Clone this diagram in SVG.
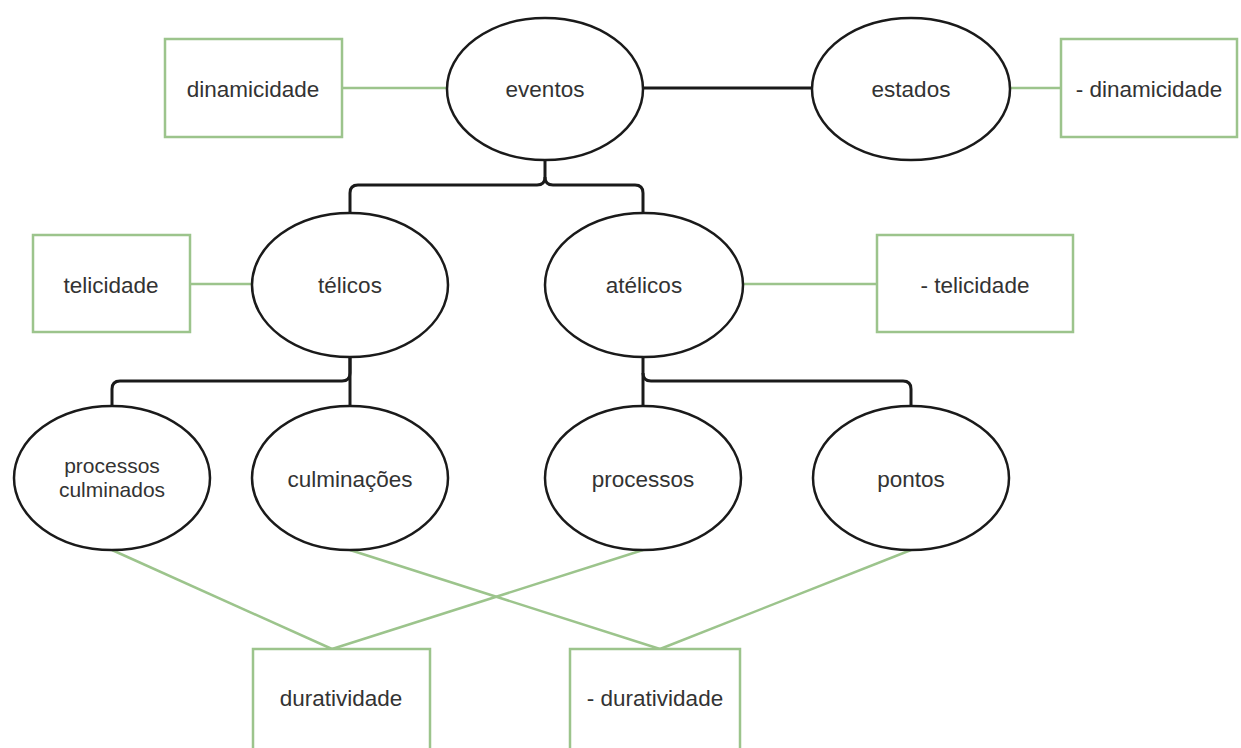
<svg xmlns="http://www.w3.org/2000/svg" width="1241" height="748" viewBox="0 0 1241 748">
<style>
.bg{fill:#fff}
.ell{fill:#fff;stroke:#1a1a1a;stroke-width:2.5}
.box{fill:#fff;stroke:#9cc48c;stroke-width:2.5}
.blk{fill:none;stroke:#1a1a1a;stroke-width:3}
.grn{fill:none;stroke:#9cc48c;stroke-width:2.5}
text{font-family:"Liberation Sans",Arial,sans-serif;font-size:22.5px;fill:#333;text-anchor:middle;dominant-baseline:central}
text.sm{font-size:21px}
</style>
<rect class="bg" x="0" y="0" width="1241" height="748"/>
<g id="connectors">
<path class="grn" d="M342,88 H447"/>
<path class="blk" d="M643,88 H812"/>
<path class="grn" d="M1010,88 H1061"/>
<path class="blk" d="M545,160 V177 Q545,185 537,185 H358 Q350,185 350,193 V212"/>
<path class="blk" d="M545,177 Q545,185 553,185 H635 Q643,185 643,193 V212"/>
<path class="grn" d="M190,284 H252"/>
<path class="grn" d="M743,284 H877"/>
<path class="blk" d="M350,357 V373 Q350,381 342,381 H120 Q112,381 112,389 V406"/>
<path class="blk" d="M350,357 V406"/>
<path class="blk" d="M643,357 V406"/>
<path class="blk" d="M643,373 Q643,381 651,381 H903 Q911,381 911,389 V406"/>
<path class="grn" d="M112,550 L332,649"/>
<path class="grn" d="M350,550 L660,649"/>
<path class="grn" d="M643,550 L332,649"/>
<path class="grn" d="M911,550 L660,649"/>
</g>
<g id="dinamicidade"><rect class="box" x="165" y="39" width="177" height="98"/><text x="253" y="89">dinamicidade</text></g>
<g id="eventos"><ellipse class="ell" cx="545" cy="89" rx="98" ry="71"/><text x="545" y="89">eventos</text></g>
<g id="estados"><ellipse class="ell" cx="911" cy="89" rx="99" ry="71"/><text x="911" y="89">estados</text></g>
<g id="neg-dinamicidade"><rect class="box" x="1061" y="39" width="176" height="98"/><text x="1149" y="89">- dinamicidade</text></g>
<g id="telicidade"><rect class="box" x="33" y="235" width="157" height="97"/><text x="111" y="285">telicidade</text></g>
<g id="telicos"><ellipse class="ell" cx="350" cy="285" rx="98" ry="72"/><text x="350" y="285">télicos</text></g>
<g id="atelicos"><ellipse class="ell" cx="644" cy="285" rx="99" ry="72"/><text x="644" y="285">atélicos</text></g>
<g id="neg-telicidade"><rect class="box" x="877" y="235" width="196" height="97"/><text x="975" y="285">- telicidade</text></g>
<g id="processos-culminados"><ellipse class="ell" cx="112" cy="478" rx="98" ry="72"/><text class="sm" x="112" y="465">processos</text><text class="sm" x="112" y="489">culminados</text></g>
<g id="culminacoes"><ellipse class="ell" cx="350" cy="478" rx="98" ry="72"/><text x="350" y="479">culminações</text></g>
<g id="processos"><ellipse class="ell" cx="643" cy="478" rx="98" ry="72"/><text x="643" y="479">processos</text></g>
<g id="pontos"><ellipse class="ell" cx="911" cy="478" rx="98" ry="72"/><text x="911" y="479">pontos</text></g>
<g id="duratividade"><rect class="box" x="253" y="649" width="177" height="103"/><text x="341" y="698">duratividade</text></g>
<g id="neg-duratividade"><rect class="box" x="570" y="649" width="170" height="103"/><text x="655" y="698">- duratividade</text></g>
</svg>
